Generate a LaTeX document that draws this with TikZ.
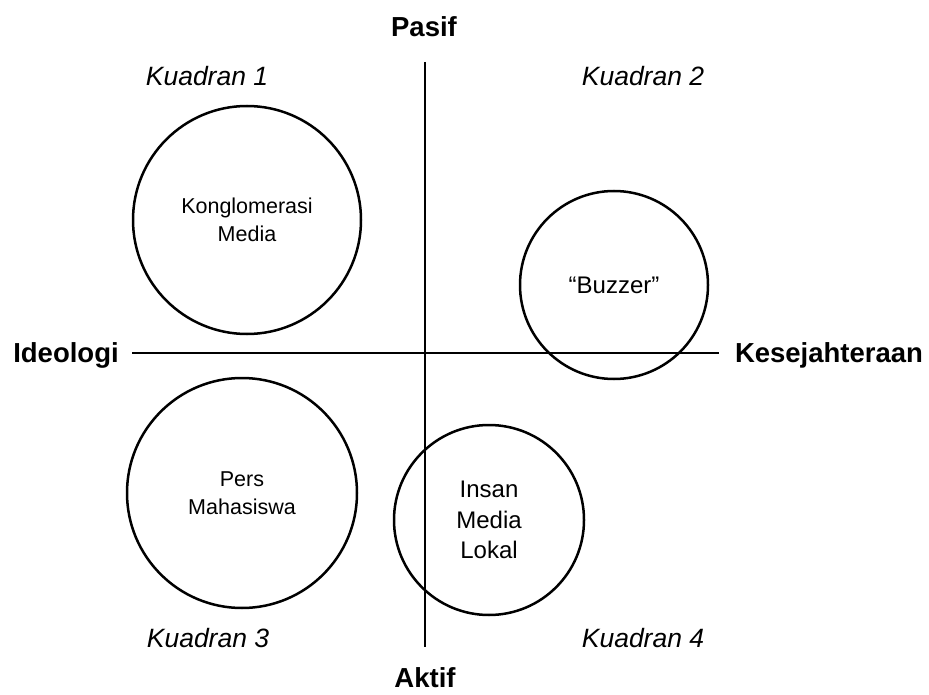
\documentclass[tikz,border=0pt]{standalone}
\usepackage{fontspec}
\setmainfont{Liberation Sans}
\begin{document}
\begin{tikzpicture}[x=1pt,y=-1pt,
  axislabel/.style={font=\fontsize{27.5}{31}\selectfont\bfseries, inner sep=0pt},
  quadlabel/.style={font=\fontsize{26.5}{30}\selectfont\itshape, inner sep=0pt},
  axisline/.style={draw=black, line width=1.8pt},
  group/.style={circle, draw=black, line width=2.5pt, inner sep=0pt, align=center},
  smalltext/.style={font=\fontsize{21.5}{28}\selectfont},
  bigtext/.style={font=\fontsize{24}{30.5}\selectfont}]
\useasboundingbox[fill=white] (0,0) rectangle (929,695);
% axes
\coordinate (vtop) at (425,62);
\coordinate (vbot) at (425,647);
\coordinate (hleft) at (132,353);
\coordinate (hright) at (719,353);
\draw[axisline] (vtop) -- (vbot);
\draw[axisline] (hleft) -- (hright);
% axis labels
\node[axislabel] (pasif) at (424,27) {Pasif};
\node[axislabel] (aktif) at (425,678) {Aktif};
\node[axislabel] (ideologi) at (66,355) {Ideologi};
\node[axislabel] (kesejahteraan) at (829,355) {Kesejahteraan};
% quadrant labels
\node[quadlabel] (k1) at (207,76) {Kuadran 1};
\node[quadlabel] (k2) at (643,76) {Kuadran 2};
\node[quadlabel] (k3) at (208,638) {Kuadran 3};
\node[quadlabel] (k4) at (643,638) {Kuadran 4};
% circles
\node[group, smalltext, minimum size=228pt] (konglo) at (247,220) {Konglomerasi\\Media};
\node[group, bigtext, minimum size=188pt] (buzzer) at (614,285) {“Buzzer”};
\node[group, smalltext, minimum size=230pt] (pers) at (242,493) {Pers\\Mahasiswa};
\node[group, bigtext, minimum size=190pt] (insan) at (489,520) {Insan\\Media\\Lokal};
\end{tikzpicture}
\end{document}
